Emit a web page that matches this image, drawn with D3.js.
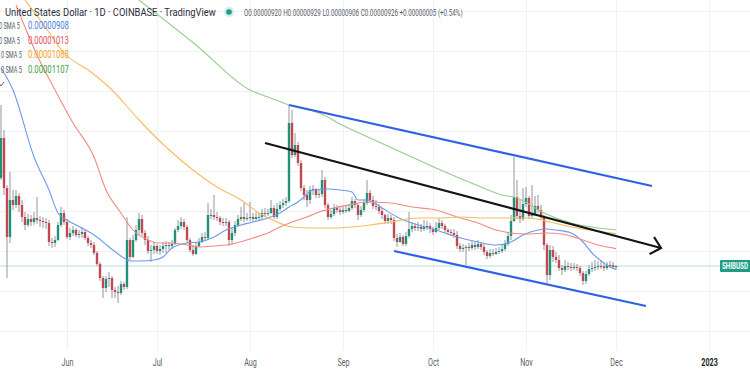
<!DOCTYPE html>
<html>
<head>
<meta charset="utf-8">
<script src="https://cdn.jsdelivr.net/npm/d3@7"></script>
<style>
  html, body { margin: 0; padding: 0; background: #fff; }
  svg { display: block; font-family: Roboto, "Open Sans", sans-serif; }
</style>
</head>
<body>
<svg id="chart" width="750" height="375"></svg>
<script>
// SHIB / USD, 1D candles. Prices are in units of 1e-8 USD.
const firstDay = "2022-05-10";
const firstOpen = 1366;

const closes = [
  1566,1316,1071,1256,1231,1276,1231,1171,1131,1161,
  1146,1166,1156,1151,1146,1141,1046,1041,1056,1131,
  1191,1146,1071,1091,1106,1081,1086,1096,1066,1041,
  1031,991,936,866,816,861,866,806,796,791,
  836,821,1056,971,1056,1106,1161,1091,1056,1001,
  1006,1026,1001,1011,1026,1031,1026,1036,1106,1126,
  1146,1121,1056,1006,986,1026,1046,1071,1066,1181,
  1181,1171,1166,1146,1141,1146,1056,1091,1131,1161,
  1171,1161,1166,1171,1161,1171,1171,1191,1186,1191,
  1216,1171,1211,1231,1241,1251,1641,1481,1531,1441,
  1316,1281,1256,1306,1311,1281,1286,1356,1231,1171,
  1186,1216,1206,1196,1206,1201,1216,1251,1231,1181,
  1206,1241,1291,1256,1226,1221,1201,1181,1151,1166,
  1156,1066,1046,1071,1036,1076,1111,1126,1116,1121,
  1111,1121,1126,1111,1096,1116,1141,1126,1106,1096,
  1091,1081,1026,1011,1016,1021,1016,1031,1021,1036,
  1021,996,976,991,986,996,1001,1011,1036,1076,
  1151,1271,1176,1161,1236,1266,1176,1186,1226,1206,
  1171,1031,881,1006,971,956,916,906,926,921,
  916,921,916,891,851,886,911,916,921,926,
  924,916,931,930,920,926
];
const highs = [
  1731,1606,1331,1396,1306,1306,1291,1256,1196,1186,
  1181,1196,1271,1176,1171,1166,1156,1066,1076,1146,
  1221,1206,1161,1116,1126,1116,1106,1121,1106,1076,
  1056,1046,1001,946,876,876,896,876,821,826,
  851,846,1171,1066,1081,1131,1191,1181,1106,1076,
  1031,1046,1036,1031,1046,1051,1046,1056,1116,1156,
  1171,1161,1131,1066,1031,1046,1066,1091,1096,1241,
  1211,1281,1196,1176,1166,1166,1156,1116,1151,1181,
  1221,1241,1191,1246,1191,1196,1191,1211,1216,1211,
  1256,1231,1241,1251,1261,1271,1731,1706,1591,1546,
  1456,1331,1306,1326,1331,1316,1306,1406,1371,1241,
  1206,1236,1231,1226,1226,1226,1236,1271,1261,1241,
  1226,1261,1356,1306,1276,1256,1236,1216,1186,1186,
  1181,1171,1086,1091,1081,1096,1196,1146,1141,1146,
  1136,1156,1151,1141,1121,1146,1166,1156,1136,1116,
  1111,1111,1101,1041,1036,1031,1041,1051,1046,1056,
  1046,1036,1006,1011,1011,1016,1021,1031,1056,1096,
  1181,1471,1356,1256,1316,1321,1276,1331,1276,1281,
  1231,1181,1041,1031,1026,996,981,931,956,946,
  941,941,936,926,901,901,931,946,956,951,
  956,941,946,951,946,929
];
const lows = [
  1356,1281,866,1041,1206,1216,1196,1146,1106,1121,
  1126,1131,1136,1121,1116,1111,1026,1016,1021,1051,
  1121,1131,1061,1056,1076,1071,1066,1066,1056,1026,
  1016,981,926,851,766,796,821,766,766,741,
  781,806,811,956,966,1046,1076,1076,1031,986,
  946,986,986,981,991,991,1006,1011,1031,1096,
  1111,1106,1041,996,976,981,1021,1041,1051,1056,
  1161,1156,1151,1131,1126,1126,1026,1031,1076,1121,
  1151,1146,1151,1151,1146,1151,1156,1161,1171,1176,
  1186,1161,1161,1201,1216,1226,1241,1466,1471,1426,
  1301,1256,1221,1236,1281,1266,1266,1271,1216,1156,
  1161,1176,1191,1181,1186,1191,1196,1206,1216,1156,
  1171,1196,1231,1241,1211,1206,1186,1161,1136,1136,
  1136,1051,1021,1041,1026,1026,1066,1096,1101,1101,
  1096,1101,1106,1091,1081,1091,1106,1111,1091,1081,
  1076,1066,1011,996,996,931,1001,1006,1006,1011,
  1006,981,961,966,976,981,986,991,1001,1026,
  1056,1146,1161,1141,1151,1221,1161,1166,1176,1191,
  1156,1006,841,856,946,941,901,881,896,906,
  901,906,901,876,831,836,876,896,901,906,
  911,901,906,921,916,906
];

// moving averages: [date, price]
const sma20 = [
  ["2022-05-10",1916],["2022-05-14",1806],["2022-05-21",1471],["2022-05-26",1306],
  ["2022-05-29",1191],["2022-06-01",1156],["2022-06-06",1116],["2022-06-11",1071],
  ["2022-06-15",1021],["2022-06-20",966],["2022-06-22",951],["2022-06-25",951],
  ["2022-06-30",956],["2022-07-03",971],["2022-07-06",1016],["2022-07-11",1041],
  ["2022-07-15",1046],["2022-07-20",1071],["2022-07-24",1106],["2022-07-29",1131],
  ["2022-08-02",1146],["2022-08-07",1166],["2022-08-11",1191],["2022-08-14",1221],
  ["2022-08-17",1246],["2022-08-19",1271],["2022-08-22",1306],["2022-08-27",1311],
  ["2022-08-31",1306],["2022-09-04",1296],["2022-09-06",1256],["2022-09-09",1256],
  ["2022-09-14",1216],["2022-09-19",1171],["2022-09-26",1131],["2022-10-02",1106],
  ["2022-10-09",1071],["2022-10-16",1046],["2022-10-22",1031],["2022-10-27",1046],
  ["2022-10-31",1081],["2022-11-05",1106],["2022-11-08",1111],["2022-11-11",1106],
  ["2022-11-16",1091],["2022-11-20",1046],["2022-11-23",991],["2022-11-27",941],
  ["2022-11-29",921],["2022-12-01",908]
];
const sma50 = [
  ["2022-05-15",2231],["2022-05-22",1981],["2022-05-28",1806],["2022-06-03",1641],
  ["2022-06-10",1471],["2022-06-14",1306],["2022-06-19",1191],["2022-06-23",1106],
  ["2022-06-28",1056],["2022-07-01",1041],["2022-07-06",1041],["2022-07-11",1031],
  ["2022-07-15",1021],["2022-07-20",1026],["2022-07-26",1036],["2022-08-02",1066],
  ["2022-08-07",1091],["2022-08-11",1121],["2022-08-15",1146],["2022-08-20",1171],
  ["2022-08-24",1196],["2022-08-29",1216],["2022-09-03",1231],["2022-09-09",1246],
  ["2022-09-17",1241],["2022-09-24",1221],["2022-10-02",1206],["2022-10-09",1171],
  ["2022-10-16",1141],["2022-10-22",1106],["2022-10-27",1091],["2022-11-01",1086],
  ["2022-11-08",1091],["2022-11-13",1086],["2022-11-18",1066],["2022-11-25",1031],
  ["2022-12-01",1013]
];
const sma100 = [
  ["2022-05-18",2256],["2022-05-25",2116],["2022-05-31",1991],["2022-06-09",1896],
  ["2022-06-16",1806],["2022-06-25",1656],["2022-07-04",1521],["2022-07-13",1406],
  ["2022-07-21",1321],["2022-07-29",1256],["2022-08-04",1191],["2022-08-10",1146],
  ["2022-08-15",1121],["2022-08-22",1116],["2022-08-29",1116],["2022-09-04",1121],
  ["2022-09-10",1131],["2022-09-17",1146],["2022-09-26",1166],["2022-10-02",1166],
  ["2022-10-11",1171],["2022-10-18",1166],["2022-10-27",1166],["2022-11-02",1166],
  ["2022-11-09",1146],["2022-11-16",1121],["2022-11-22",1106],["2022-12-01",1088]
];
const sma200 = [
  ["2022-06-25",2256],["2022-07-14",2031],["2022-08-01",1806],["2022-08-07",1771],
  ["2022-08-14",1731],["2022-08-24",1691],["2022-09-02",1621],["2022-09-10",1566],
  ["2022-09-21",1491],["2022-10-02",1416],["2022-10-13",1346],["2022-10-24",1281],
  ["2022-10-29",1266],["2022-11-07",1191],["2022-11-16",1141],["2022-11-25",1116],
  ["2022-12-01",1107]
];

// hand-drawn lines on the chart
const upperChannel = [["2022-08-14",1731],["2022-12-13",1326]];
const lowerChannel = [["2022-09-18",1001],["2022-12-11",726]];
const trendArrow   = [["2022-08-06",1541],["2022-12-16",1016]];

const monthTicks = ["2022-06-01","2022-07-01","2022-08-01","2022-09-01","2022-10-01","2022-11-01","2022-12-01","2023-01-01"];
const priceGrid = [600, 800, 1000, 1200, 1400, 1600, 1800, 2000, 2200];

const titleText = "United States Dollar \u00b7 1D \u00b7 COINBASE \u00b7 TradingView";
const ohlcText = "O0.00000920 H0.00000929 L0.00000906 C0.00000926 +0.00000005 (+0.54%)";

const GREEN = "#23907a", RED = "#c4474f", WICK = "#868b94";
const maStyles = [
  { data: sma20,  color: "#6b9be9", legend: "#4b7fe0" },
  { data: sma50,  color: "#f08a84", legend: "#e0535b" },
  { data: sma100, color: "#f6bd5c", legend: "#eea52c" },
  { data: sma200, color: "#97cc8e", legend: "#43a047" }
];

const W = 750, plotH = 350;
const svg = d3.select("#chart");

const x = d3.scaleUtc()
  .domain([new Date("2022-06-01"), new Date("2023-01-01")])
  .range([67, 709]);
const y = d3.scaleLinear().domain([506, 2256]).range([plotH, 0]);

const day0 = new Date(firstDay);
const candles = closes.map((c, i) => ({
  date: d3.utcDay.offset(day0, i),
  open: i === 0 ? firstOpen : closes[i - 1],
  high: highs[i],
  low: lows[i],
  close: c
}));

svg.append("defs").append("clipPath").attr("id", "plotclip")
  .append("rect").attr("x", 0).attr("y", 0).attr("width", W).attr("height", plotH);

const plot = svg.append("g").attr("clip-path", "url(#plotclip)");

// grid
plot.append("g").selectAll("line").data(priceGrid).join("line")
  .attr("x1", 0).attr("x2", W)
  .attr("y1", d => Math.round(y(d)) + 0.5).attr("y2", d => Math.round(y(d)) + 0.5)
  .attr("stroke", "#eff1f5");
plot.append("g").selectAll("line").data(monthTicks).join("line")
  .attr("x1", d => Math.round(x(new Date(d))) + 0.5).attr("x2", d => Math.round(x(new Date(d))) + 0.5)
  .attr("y1", 0).attr("y2", plotH)
  .attr("stroke", "#eff1f5");

// last price line
const last = candles[candles.length - 1];
plot.append("line")
  .attr("x1", 0).attr("x2", W)
  .attr("y1", y(last.close)).attr("y2", y(last.close))
  .attr("stroke", "#b9ddd3").attr("stroke-width", 1);

// candles
const bw = 2.4;
const cg = plot.append("g");
cg.selectAll("line").data(candles).join("line")
  .attr("x1", d => x(d.date)).attr("x2", d => x(d.date))
  .attr("y1", d => y(Math.max(d.high, d.open, d.close)))
  .attr("y2", d => y(Math.min(d.low, d.open, d.close)))
  .attr("stroke", WICK).attr("stroke-width", 0.9);
cg.selectAll("rect").data(candles).join("rect")
  .attr("x", d => x(d.date) - bw / 2)
  .attr("width", bw)
  .attr("y", d => y(Math.max(d.open, d.close)))
  .attr("height", d => Math.max(1, Math.abs(y(d.open) - y(d.close))))
  .attr("fill", d => d.close >= d.open ? GREEN : RED);

// moving averages
const maLine = d3.line()
  .x(d => x(new Date(d[0])))
  .y(d => y(d[1]))
  .curve(d3.curveMonotoneX);
plot.append("g").selectAll("path").data(maStyles).join("path")
  .attr("d", d => maLine(d.data))
  .attr("fill", "none")
  .attr("stroke", d => d.color)
  .attr("stroke-width", 1.1);

// drawings
const straight = d3.line().x(d => x(new Date(d[0]))).y(d => y(d[1]));
plot.append("path").attr("d", straight(upperChannel))
  .attr("stroke", "#2f62e3").attr("stroke-width", 2.2).attr("fill", "none");
plot.append("path").attr("d", straight(lowerChannel))
  .attr("stroke", "#2f62e3").attr("stroke-width", 2.2).attr("fill", "none");
plot.append("path").attr("d", straight(trendArrow))
  .attr("stroke", "#151515").attr("stroke-width", 2.2).attr("fill", "none");

// arrow head
const tx = x(new Date(trendArrow[1][0])), ty = y(trendArrow[1][1]);
const sx = x(new Date(trendArrow[0][0])), sy = y(trendArrow[0][1]);
const ang = Math.atan2(ty - sy, tx - sx);
const head = [ang + Math.PI - 0.75, ang + Math.PI + 0.75].map(a => [tx + 13 * Math.cos(a), ty + 13 * Math.sin(a)]);
plot.append("path")
  .attr("d", d3.line()([head[0], [tx, ty], head[1]]))
  .attr("stroke", "#151515").attr("stroke-width", 2.2).attr("fill", "none")
  .attr("stroke-linejoin", "miter");

// squeeze text horizontally (the screenshot's type is narrow)
function fitWidth(sel, width) {
  sel.each(function () {
    const t = d3.select(this);
    const x0 = +t.attr("x") || 0, y0 = +t.attr("y") || 0;
    const w = this.getComputedTextLength();
    const target = typeof width === "function" ? width(w) : width;
    t.attr("x", 0).attr("y", 0).attr("dy", null)
      .attr("transform", `translate(${x0},${y0}) scale(${target / w},1)`);
  });
}

// time axis
const axis = d3.axisBottom(x)
  .tickValues(monthTicks.map(d => new Date(d)))
  .tickSize(0)
  .tickPadding(0)
  .tickFormat(d => d.getUTCMonth() === 0 ? String(d.getUTCFullYear()) : d3.utcFormat("%b")(d));
const ax = svg.append("g").attr("transform", `translate(0,${plotH})`).call(axis);
ax.select(".domain").remove();
ax.selectAll("text")
  .attr("y", 16).attr("dy", 0)
  .attr("font-size", 10)
  .attr("font-family", "Roboto, sans-serif")
  .attr("fill", d => d.getUTCMonth() === 0 ? "#222" : "#5d606b")
  .attr("font-weight", d => d.getUTCMonth() === 0 ? 700 : 400)
  .call(fitWidth, w => w * 0.72);

// price label on the right
const py = y(last.close);
svg.append("rect").attr("x", 720).attr("y", py - 6).attr("width", 40).attr("height", 12)
  .attr("fill", "#1f9d84").attr("rx", 1);
svg.append("text").attr("x", 722).attr("y", py + 3.2)
  .attr("font-size", 8.5).attr("font-weight", 700).attr("fill", "#fff")
  .text("SHIBUSD").call(fitWidth, 26);

// legend
svg.append("text").attr("x", 5).attr("y", 16)
  .attr("font-size", 10.5).attr("fill", "#2a2e39")
  .text(titleText).call(fitWidth, 211);
svg.append("circle").attr("cx", 229).attr("cy", 12).attr("r", 5).attr("fill", "#cdeee6");
svg.append("circle").attr("cx", 229).attr("cy", 12).attr("r", 2.8).attr("fill", "#1f9d84");
svg.append("text").attr("x", 244).attr("y", 15.5)
  .attr("font-size", 9.5).attr("fill", "#555a66")
  .text(ohlcText).call(fitWidth, 219);

const fmt = v => (v * 1e-8).toFixed(8);
const rows = svg.append("g").selectAll("g").data(maStyles).join("g")
  .attr("transform", (d, i) => `translate(0,${29 + i * 14.7})`);
rows.append("text").attr("x", (d, i) => i < 2 ? -1 : 1).attr("y", 0)
  .attr("font-size", 9.5).attr("fill", "#555a66")
  .text("0 SMA 5").call(fitWidth, 21);
rows.append("text").attr("x", 28).attr("y", 0)
  .attr("font-size", 10).attr("fill", d => d.legend)
  .text(d => fmt(d.data[d.data.length - 1][1])).call(fitWidth, 41);
svg.append("path").attr("d", "M-2,82 L1,86 L4,82")
  .attr("stroke", "#666").attr("fill", "none").attr("stroke-width", 1);
</script>
</body>
</html>
